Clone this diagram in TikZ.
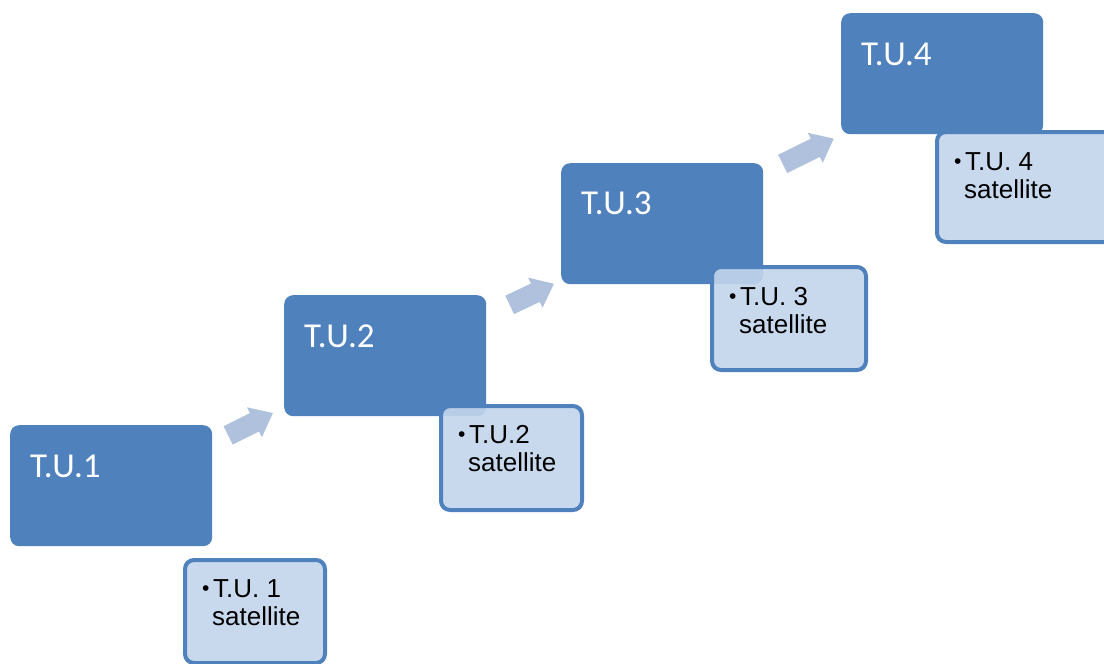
\documentclass[tikz,border=0pt]{standalone}
\usepackage{fontspec}
\setmainfont{Liberation Sans}
\newfontfamily\calibfont{Carlito}
\usetikzlibrary{shapes.arrows}
\definecolor{dk}{HTML}{4F81BD}
\definecolor{lt}{HTML}{C2D5EC}
\definecolor{arr}{HTML}{AFC1DD}
\tikzset{
  tubox/.style={fill=dk, draw=none, rounded corners=9pt, minimum width=202pt,
    minimum height=121pt, anchor=north west, inner sep=0pt},
  satbox/.style={fill=lt, fill opacity=0.9, draw=dk, line width=4pt,
    rounded corners=9pt, anchor=north west, inner sep=0pt},
  tulabel/.style={anchor=base west, inner sep=0pt, text=white,
    font=\calibfont\fontsize{35}{40}\selectfont},
  satlabel/.style={anchor=base west, inner sep=0pt, align=left,
    font=\fontsize{26}{28}\selectfont},
  blockarrow/.style={single arrow, fill=arr, draw=none, anchor=tail,
    inner xsep=0pt, inner ysep=10pt, single arrow head extend=6.5pt,
    single arrow tip angle=78, shape border uses incircle=false}
}
\newcommand\smallbullet{\raisebox{2pt}{\fontsize{21}{21}\selectfont\textbullet}}
\newcommand\satline[2]{\makebox[11pt][l]{\smallbullet}#1\\\hspace*{10pt}#2}
\begin{document}
\begin{tikzpicture}[x=1pt,y=-1pt]
\useasboundingbox (0,0) rectangle (1104,664);
\clip (0,0) rectangle (1104,664);
% dark boxes
\node[tubox] (b1) at (10,425) {};
\node[tubox] (b2) at (284,295) {};
\node[tubox] (b3) at (561,163) {};
\node[tubox] (b4) at (841,13) {};
\node[tulabel] (l1) at (30,477) {T.U.1};
\node[tulabel] (l2) at (304,347) {T.U.2};
\node[tulabel] (l3) at (581,214) {T.U.3};
\node[tulabel] (l4) at (861,65) {T.U.4};
% arrows
\node[blockarrow, minimum height=50pt, rotate=26.6] (a1) at (228,435.5) {};
\node[blockarrow, minimum height=49pt, rotate=25.5] (a2) at (509.5,305) {};
\node[blockarrow, minimum height=57pt, rotate=26.3] (a3) at (782.5,164) {};
% satellite boxes
\node[satbox, minimum width=140pt, minimum height=103pt] (s1) at (183,558) {};
\node[satbox, minimum width=141pt, minimum height=104pt] (s2) at (439,404) {};
\node[satbox, minimum width=154pt, minimum height=103pt] (s3) at (710,265) {};
\node[satbox, minimum width=190pt, minimum height=110pt] (s4) at (935,130) {};
\node[satlabel] (t1) at (202,625) {\satline{T.U. 1}{satellite}};
\node[satlabel] (t2) at (458,471) {\satline{T.U.2}{satellite}};
\node[satlabel] (t3) at (729,333) {\satline{T.U. 3}{satellite}};
\node[satlabel] (t4) at (954,198) {\satline{T.U. 4}{satellite}};
\end{tikzpicture}
\end{document}
